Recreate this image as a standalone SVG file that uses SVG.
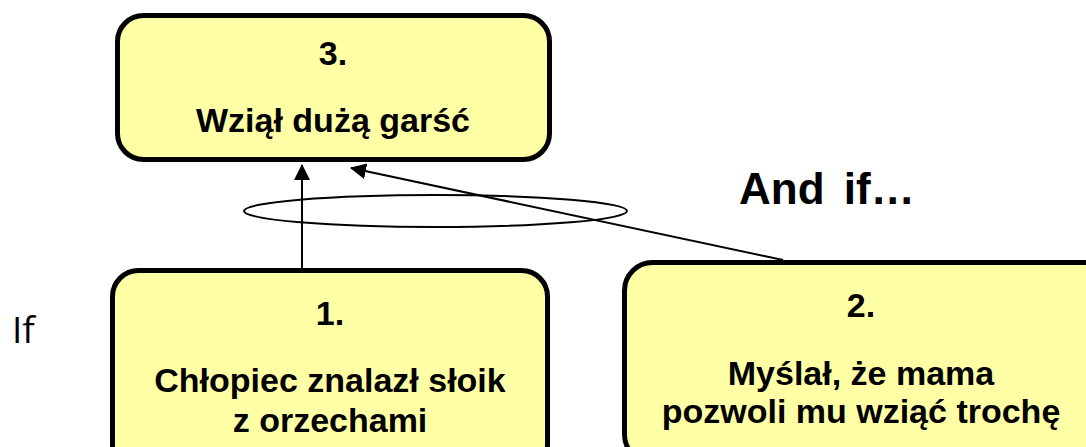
<svg xmlns="http://www.w3.org/2000/svg" width="1086" height="447" viewBox="0 0 1086 447">
  <style>
    .box { fill: #FFFFA6; stroke: #000; stroke-width: 5; }
    .lbl { font-family: "Liberation Sans", Arial, sans-serif; font-weight: bold; font-size: 34px; fill: #000; text-anchor: middle; }
    .edge { fill: none; stroke: #000; stroke-width: 2; }
  </style>
  <defs>
    <marker id="arrow" markerUnits="userSpaceOnUse" viewBox="0 0 16 16" refX="15" refY="8" markerWidth="16" markerHeight="16" orient="auto">
      <path d="M0,0 L16,8 L0,16 z" fill="#000"/>
    </marker>
  </defs>

  <rect width="1086" height="447" fill="#fff"/>

  <!-- connectors -->
  <g id="connectors">
    <line class="edge" x1="302" y1="268" x2="302" y2="165" marker-end="url(#arrow)"/>
    <line class="edge" x1="783" y1="260" x2="351" y2="168" marker-end="url(#arrow)"/>
    <ellipse class="edge" cx="435.5" cy="211" rx="191.5" ry="16"/>
  </g>

  <!-- result -->
  <g id="node3">
    <rect class="box" x="117.5" y="15.5" width="432" height="144" rx="26"/>
    <text class="lbl" x="333" y="65">3.</text>
    <text class="lbl" x="333" y="132">Wziął dużą garść</text>
  </g>

  <!-- first cause -->
  <g id="node1">
    <rect class="box" x="112.5" y="270.5" width="435" height="200" rx="26"/>
    <text class="lbl" x="330" y="325">1.</text>
    <text class="lbl" x="330" y="392">Chłopiec znalazł słoik</text>
    <text class="lbl" x="330" y="432">z orzechami</text>
  </g>

  <!-- second cause -->
  <g id="node2">
    <rect class="box" x="624.5" y="262.5" width="500" height="200" rx="28"/>
    <text class="lbl" x="861" y="317">2.</text>
    <text class="lbl" x="861" y="385">Myślał, że mama</text>
    <text class="lbl" x="861" y="423">pozwoli mu wziąć trochę</text>
  </g>

  <!-- side captions -->
  <g id="caption-if">
    <text x="12" y="343" font-family="'Open Sans', 'Liberation Sans', sans-serif" font-size="37" fill="#000">If</text>
  </g>
  <g id="caption-andif">
    <text x="739" y="204" font-family="'Liberation Sans', Arial, sans-serif" font-weight="bold" font-size="44" word-spacing="7" fill="#000">And if…</text>
  </g>
</svg>
